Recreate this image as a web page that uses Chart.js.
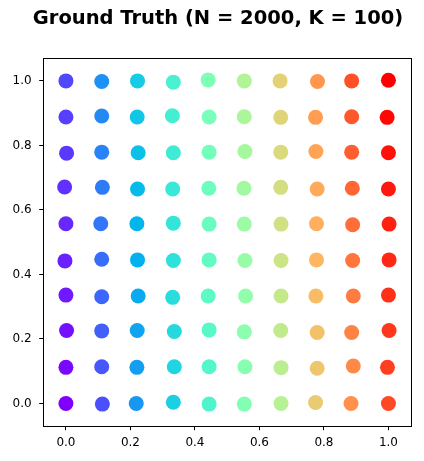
<!DOCTYPE html>
<html>
<head>
<meta charset="utf-8">
<script src="https://cdn.jsdelivr.net/npm/chart.js@4"></script>
<style>
html,body{margin:0;padding:0;background:#fff;}
#wrap{width:424px;height:461px;}
</style>
</head>
<body>
<div id="wrap"><canvas id="c" width="424" height="461"></canvas></div>
<script>
// cluster labels (k = column*10 + row), ordered column by column, bottom row first
const clusterLabels = Array.from({length:100}, (_, i) => i);
const clusterX = [
  0.000, 0.000, 0.002, 0.000, -0.003, 0.000, -0.004, 0.002, 0.000, 0.000,
  0.113, 0.111, 0.111, 0.111, 0.111, 0.108, 0.113, 0.111, 0.111, 0.111,
  0.218, 0.220, 0.221, 0.224, 0.222, 0.220, 0.222, 0.224, 0.221, 0.222,
  0.333, 0.336, 0.336, 0.331, 0.333, 0.333, 0.331, 0.333, 0.330, 0.333,
  0.444, 0.444, 0.444, 0.441, 0.444, 0.444, 0.443, 0.444, 0.444, 0.441,
  0.553, 0.555, 0.553, 0.557, 0.555, 0.553, 0.552, 0.555, 0.553, 0.553,
  0.667, 0.667, 0.666, 0.667, 0.667, 0.667, 0.666, 0.666, 0.666, 0.664,
  0.774, 0.779, 0.779, 0.775, 0.777, 0.777, 0.779, 0.775, 0.774, 0.780,
  0.884, 0.891, 0.886, 0.891, 0.889, 0.889, 0.888, 0.886, 0.886, 0.886,
  1.000, 0.997, 1.002, 1.000, 1.002, 1.002, 1.000, 1.000, 0.996, 1.000
];
const clusterY = [
  0.000, 0.112, 0.226, 0.336, 0.442, 0.557, 0.671, 0.776, 0.888, 1.000,
  -0.002, 0.114, 0.225, 0.331, 0.447, 0.557, 0.670, 0.779, 0.891, 0.998,
  0.000, 0.112, 0.226, 0.333, 0.445, 0.557, 0.665, 0.777, 0.888, 1.000,
  0.004, 0.114, 0.223, 0.329, 0.443, 0.559, 0.665, 0.777, 0.892, 0.996,
  -0.002, 0.114, 0.228, 0.333, 0.445, 0.556, 0.667, 0.779, 0.888, 1.003,
  -0.002, 0.114, 0.222, 0.333, 0.443, 0.556, 0.667, 0.781, 0.889, 1.000,
  0.000, 0.111, 0.226, 0.333, 0.443, 0.556, 0.670, 0.779, 0.887, 1.000,
  0.003, 0.109, 0.220, 0.333, 0.445, 0.557, 0.665, 0.781, 0.887, 0.998,
  0.000, 0.116, 0.220, 0.333, 0.443, 0.554, 0.667, 0.779, 0.889, 1.000,
  0.000, 0.112, 0.226, 0.336, 0.445, 0.556, 0.665, 0.777, 0.887, 1.002
];
const xTickValues = [0.0, 0.2, 0.4, 0.6, 0.8, 1.0];
const yTickValues = [0.0, 0.2, 0.4, 0.6, 0.8, 1.0];
const titleText = 'Ground Truth (N = 2000, K = 100)';

// matplotlib "rainbow" colormap
function rainbow(v) {
  const cl = t => Math.max(0, Math.min(1, t));
  const r = cl(Math.abs(2 * v - 0.5));
  const g = cl(Math.sin(Math.PI * v));
  const b = cl(Math.cos(Math.PI * v / 2));
  return `rgb(${Math.round(r*255)},${Math.round(g*255)},${Math.round(b*255)})`;
}
const maxLabel = Math.max(...clusterLabels);
const points = clusterX.map((x, i) => ({x: x, y: clusterY[i]}));
const colors = clusterLabels.map(k => rainbow(k / maxLabel));

const fontFam = "'DejaVu Sans', sans-serif";

const boxPlugin = {
  id: 'box',
  afterDatasetsDraw(chart) {
    const a = chart.chartArea, ctx = chart.ctx;
    ctx.save();
    ctx.strokeStyle = '#000';
    ctx.lineWidth = 1;
    ctx.strokeRect(Math.round(a.left) + 0.5, Math.round(a.top) + 0.5,
                   Math.round(a.right - a.left), Math.round(a.bottom - a.top));
    // figure title
    ctx.fillStyle = '#000';
    ctx.font = `bold 19.5px ${fontFam}`;
    ctx.textAlign = 'center';
    ctx.textBaseline = 'middle';
    ctx.fillText(titleText, 218, 19);
    ctx.restore();
  }
};

new Chart(document.getElementById('c'), {
  type: 'scatter',
  data: {
    datasets: [{
      data: points,
      backgroundColor: colors,
      borderWidth: 0,
      pointRadius: 7.5,
      pointHoverRadius: 7.5
    }]
  },
  options: {
    responsive: false,
    animation: false,
    events: [],
    layout: { padding: { left: 0, right: 13.3, top: 58.3, bottom: 0 } },
    plugins: {
      legend: { display: false },
      tooltip: { enabled: false },
      title: { display: false }
    },
    scales: {
      x: {
        type: 'linear',
        min: -0.072, max: 1.069,
        afterBuildTicks: s => { s.ticks = xTickValues.map(v => ({value: v})); },
        afterFit: s => { s.height = 34.3; },
        border: { display: false },
        grid: { display: true, drawOnChartArea: false, drawTicks: true, tickLength: 3.5, color: '#000', lineWidth: 1 },
        ticks: { color: '#000', font: { family: fontFam, size: 12 }, padding: 5, maxRotation: 0,
                 callback: v => Number(v).toFixed(1) }
      },
      y: {
        type: 'linear',
        min: -0.072, max: 1.070,
        afterBuildTicks: s => { s.ticks = yTickValues.map(v => ({value: v})); },
        afterFit: s => { s.width = 42.7; },
        border: { display: false },
        grid: { display: true, drawOnChartArea: false, drawTicks: true, tickLength: 3.5, color: '#000', lineWidth: 1 },
        ticks: { color: '#000', font: { family: fontFam, size: 12 }, padding: 7.5,
                 callback: v => Number(v).toFixed(1) }
      }
    }
  },
  plugins: [boxPlugin]
});
</script>
</body>
</html>
